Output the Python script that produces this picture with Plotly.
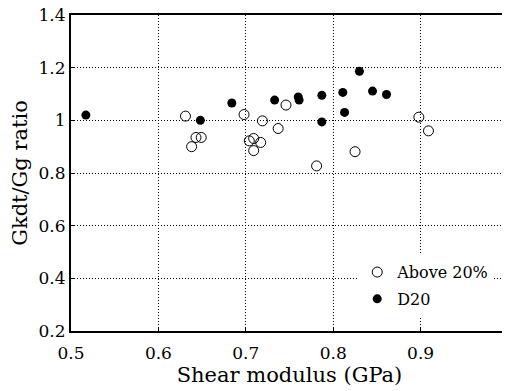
import plotly.graph_objects as go

# Above 20% (open circles)
above_x = [0.631, 0.698, 0.719, 0.737, 0.643, 0.649, 0.638, 0.704, 0.709, 0.717, 0.709,
           0.746, 0.898, 0.909, 0.825, 0.781]
above_y = [1.016, 1.022, 0.998, 0.969, 0.935, 0.935, 0.900, 0.922, 0.931, 0.916, 0.885,
           1.058, 1.012, 0.960, 0.881, 0.827]

# D20 (filled circles)
d20_x = [0.517, 0.648, 0.684, 0.733, 0.760, 0.761, 0.787, 0.787, 0.811, 0.813, 0.830,
         0.845, 0.861]
d20_y = [1.020, 1.000, 1.066, 1.077, 1.089, 1.077, 1.095, 0.994, 1.106, 1.030, 1.186,
         1.111, 1.098]

x_ticks = [0.5, 0.6, 0.7, 0.8, 0.9, 1.0]
x_labels = ["0.5", "0.6", "0.7", "0.8", "0.9", "1"]
y_ticks = [0.2, 0.4, 0.6, 0.8, 1.0, 1.2, 1.4]
y_labels = ["0.2", "0.4", "0.6", "0.8", "1", "1.2", "1.4"]

FONT = "DejaVu Serif"

fig = go.Figure()
fig.add_trace(go.Scatter(
    x=above_x, y=above_y, mode="markers", name="Above 20%", legendgroup="a",
    marker=dict(symbol="circle-open", size=10, color="black", line=dict(width=1, color="black")),
))
fig.add_trace(go.Scatter(
    x=d20_x, y=d20_y, mode="markers", name="D20", legendgroup="b",
    marker=dict(symbol="circle", size=9, color="black"),
))

axis_common = dict(
    showline=True, linecolor="black", linewidth=2, mirror=True,
    showgrid=True, gridcolor="black", gridwidth=1, griddash="1px,2px",
    ticks="inside", ticklen=4, tickcolor="black", tickwidth=1,
    zeroline=False, automargin=False, ticklabeloverflow="allow",
    tickfont=dict(family=FONT, size=17, color="black"),
)

fig.update_xaxes(
    range=[0.5, 1.0], tickvals=x_ticks, ticktext=x_labels, ticklabelstandoff=6,
    title=dict(text="Shear modulus (GPa)", font=dict(family=FONT, size=21, color="black"), standoff=3),
    **axis_common,
)
fig.update_yaxes(
    range=[0.2, 1.4], tickvals=y_ticks, ticktext=y_labels, ticklabelstandoff=0,
    title=dict(text="Gkdt/Gg ratio", font=dict(family=FONT, size=21, color="black"), standoff=18),
    **axis_common,
)

fig.update_layout(
    width=510, height=391,
    margin=dict(l=63, r=10, t=7, b=67.5),
    paper_bgcolor="white", plot_bgcolor="white",
    showlegend=True,
    legend=dict(
        x=0.655, y=0.24, xanchor="left", yanchor="top",
        bgcolor="white", borderwidth=0,
        font=dict(family=FONT, size=16, color="black"),
        traceorder="grouped", tracegroupgap=3,
    ),
)

fig.write_html("out.html")
